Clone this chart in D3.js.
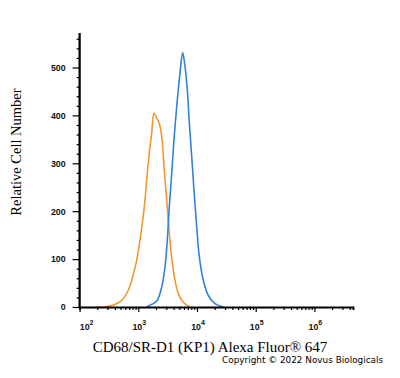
<!DOCTYPE html>
<html><head><meta charset="utf-8">
<script src="https://cdn.jsdelivr.net/npm/d3@7"></script>
<style>body{margin:0;background:#fff}svg{display:block}</style>
</head><body>
<svg id="c" width="400" height="378"></svg>
<script>
// Data: fluorescence intensity vs relative cell number
const isotypeX = [183, 251, 375, 521, 676, 803, 940, 1069, 1189, 1300, 1423, 1538, 1690, 1850, 2050, 2253, 2506, 2741, 3048, 3373, 3750, 4217, 4800, 5843, 7600];
const isotypeY = [0, 0, 4, 14, 35, 63, 98, 140, 181, 223, 279, 321, 363, 405, 395, 385, 356, 293, 223, 154, 98, 56, 28, 10, 0];
const cd68X = [1390, 1583, 2056, 2506, 2851, 3120, 3373, 3707, 4055, 4508, 5130, 5700, 6250, 6840, 7400, 8130, 8890, 9890, 10940, 12800, 15590, 20280, 28050];
const cd68Y = [0, 4, 12, 42, 84, 140, 209, 279, 349, 418, 488, 531, 502, 453, 384, 314, 244, 167, 105, 56, 24, 7, 0];
const xTickExps = [2, 3, 4, 5, 6];
const yTicks = [0, 100, 200, 300, 400, 500];
const xTitle = "CD68/SR-D1 (KP1) Alexa Fluor\u00AE 647";
const yTitle = "Relative Cell Number";
const copyright = "Copyright \u00A9 2022 Novus Biologicals";

const svg = d3.select("#c");
const x0 = 79.6, decade = 58.7;
const x = d3.scaleLog().domain([100, Math.pow(10, 2 + (353 - x0) / decade)]).range([x0, 353]);
const y = d3.scaleLinear().domain([0, 572]).range([307, 33]);

// curves
const line = d3.line().x(d => x(d[0])).y(d => y(d[1])).curve(d3.curveCatmullRom.alpha(0.5));
svg.append("path").datum(isotypeX.map((v, i) => [v, isotypeY[i]]))
  .attr("d", line).attr("fill", "none").attr("stroke", "#f0982f").attr("stroke-width", 1.6);
svg.append("path").datum(cd68X.map((v, i) => [v, cd68Y[i]]))
  .attr("d", line).attr("fill", "none").attr("stroke", "#3282dc").attr("stroke-width", 1.6);

const tickFont = "Liberation Sans, Arial, sans-serif";

// y axis
const yMinor = d3.range(0, 572, 20).filter(v => v % 100 !== 0);
const ya = svg.append("g").attr("transform", `translate(${x0},0)`);
ya.call(d3.axisLeft(y).tickValues(yMinor).tickSize(3).tickFormat(""));
ya.append("g").call(d3.axisLeft(y).tickValues(yTicks).tickSize(7).tickPadding(7).tickFormat(d3.format("d")));
ya.selectAll(".domain").attr("stroke", "#000").attr("stroke-width", 1.8).attr("d", `M0,${y(0)}V${y(572)}`);
ya.selectAll("text").attr("font-family", tickFont).attr("font-size", 8.8).attr("font-weight", "bold").attr("fill", "#111");
ya.selectAll("line").attr("stroke", "#000").attr("stroke-width", 1.2);

// x axis
const minor = [];
for (let e = 2; e <= 6; e++) for (let m = 2; m <= 9; m++) { const v = m * Math.pow(10, e); if (x(v) <= 352) minor.push(v); }
const xa = svg.append("g").attr("transform", `translate(0,${y(0)})`);
xa.call(d3.axisBottom(x).tickValues(minor).tickSize(3).tickFormat(""));
xa.selectAll(".domain").attr("stroke", "#000").attr("stroke-width", 1.8);
const xm = xa.append("g").call(d3.axisBottom(x).tickValues(xTickExps.map(e => Math.pow(10, e))).tickSize(5).tickFormat(""));
xm.select(".domain").remove();
xa.selectAll("line").attr("stroke", "#000").attr("stroke-width", 1.2);
xTickExps.forEach((e, i) => {
  const t = xa.append("text").attr("x", x(Math.pow(10, e)) + (i === 0 ? 7 : 1)).attr("y", 23)
    .attr("font-family", tickFont).attr("font-size", 8.8).attr("font-weight", "bold").attr("fill", "#111");
  t.append("tspan").text("10");
  t.append("tspan").attr("dy", -5).attr("font-size", 7).text(e);
});

// titles
svg.append("text").attr("x", 210).attr("y", 352).attr("text-anchor", "middle")
  .attr("font-family", "Liberation Serif, Times New Roman, serif").attr("font-size", 15).text(xTitle);
svg.append("text").attr("transform", "translate(21,152) rotate(-90)").attr("text-anchor", "middle")
  .attr("font-family", "Liberation Serif, Times New Roman, serif").attr("font-size", 14.5).text(yTitle);
svg.append("text").attr("x", 222).attr("y", 363)
  .attr("font-family", "DejaVu Sans, Verdana, sans-serif").attr("font-size", 8.9).text(copyright);
</script>
</body></html>
